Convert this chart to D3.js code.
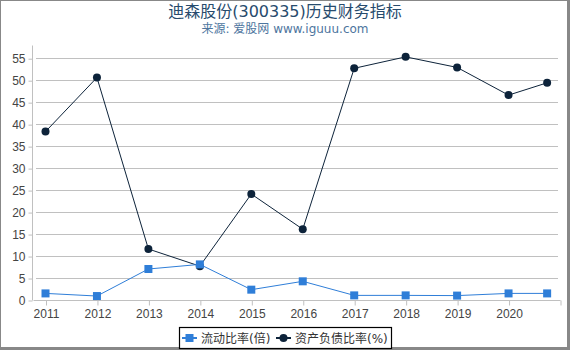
<!DOCTYPE html>
<html>
<head>
<meta charset="utf-8">
<script src="https://cdn.jsdelivr.net/npm/d3@7"></script>
<style>
  body { margin: 0; background: #fff; }
  svg { display: block; font-family: "DejaVu Sans", "Noto Sans CJK SC", sans-serif; }
  .tick text { fill: #444; font-size: 12px; }
</style>
</head>
<body>
<svg></svg>
<script>
const w = 570;
const h = 350;

// data
const periods = [2011, 2012, 2013, 2014, 2015, 2016, 2017, 2018, 2019, 2020, 2020.75];
const yearLabels = ["2011", "2012", "2013", "2014", "2015", "2016", "2017", "2018", "2019", "2020"];
const currentRatio = [1.5, 0.9, 7.05, 8.1, 2.35, 4.25, 1.05, 1.05, 1.0, 1.5, 1.5];
const debtRatio = [38.3, 50.6, 11.6, 7.7, 24.1, 16.1, 52.7, 55.3, 52.9, 46.6, 49.4];
const yTicks = [0, 5, 10, 15, 20, 25, 30, 35, 40, 45, 50, 55];
const seriesNames = ["流动比率(倍)", "资产负债比率(%)"];

const blue = "#2f7ed8";
const navy = "#0d233a";

const svg = d3.select("svg").attr("width", w).attr("height", h);

// outer frame
svg.append("rect").attr("x", 0.5).attr("y", 0.5).attr("width", 567).attr("height", 347)
  .attr("fill", "none").attr("stroke", "#888").attr("stroke-width", 1);
svg.append("rect").attr("x", 567).attr("y", 0).attr("width", 3).attr("height", h).attr("fill", "#888");
svg.append("rect").attr("x", 0).attr("y", 347).attr("width", w).attr("height", 3).attr("fill", "#888");

// titles
svg.append("text").attr("x", 285).attr("y", 17).attr("text-anchor", "middle")
  .attr("font-size", 16).attr("fill", "#274b6d").text("迪森股份(300335)历史财务指标");
svg.append("text").attr("x", 285).attr("y", 33).attr("text-anchor", "middle")
  .attr("font-size", 12).attr("fill", "#4d759e").text("来源: 爱股网 www.iguuu.com");

const x = d3.scaleLinear().domain([2010.757, 2021]).range([33, 560]);
const y = d3.scaleLinear().domain([0, 58]).range([300, 45]);

/** gridlines */
svg.append("g")
  .selectAll("line")
  .data(yTicks)
  .enter()
  .append("line")
  .attr("x1", 36)
  .attr("x2", 558)
  .attr("y1", (d) => Math.round(y(d)) + 0.5)
  .attr("y2", (d) => Math.round(y(d)) + 0.5)
  .attr("stroke", "#c0c0c0");

/** y axis */
const yAxis = svg.append("g")
  .attr("transform", "translate(32.5,0.5)")
  .call(d3.axisLeft(y).tickValues(yTicks).tickSize(4).tickPadding(3));
yAxis.select(".domain").attr("stroke", "#c0c0c0").attr("d", `M0,${y(58)}V${y(0)}`);
yAxis.selectAll(".tick line").attr("stroke", "#c0c0c0");

/** x axis */
const xAxis = svg.append("g")
  .attr("transform", `translate(0.5,${Math.round(y(0)) + 0.5})`)
  .call(d3.axisBottom(x)
    .tickValues(periods.slice(0, yearLabels.length).concat([2021]))
    .tickFormat((d, i) => yearLabels[i] || "")
    .tickSize(5)
    .tickPadding(4));
xAxis.select(".domain").attr("stroke", "#c0c0c0").attr("d", `M${x.range()[0]},0H${x.range()[1]}`);
xAxis.selectAll(".tick line").attr("stroke", "#c0c0c0");

const line = d3.line().x((d, i) => x(periods[i])).y((d) => y(d));

/** debt ratio series */
svg.append("path").datum(debtRatio).attr("d", line)
  .attr("fill", "none").attr("stroke", navy).attr("stroke-width", 1);
svg.append("g")
  .selectAll("circle")
  .data(debtRatio)
  .enter()
  .append("circle")
  .attr("cx", (d, i) => x(periods[i]))
  .attr("cy", (d) => y(d))
  .attr("r", 4)
  .attr("fill", navy);

/** current ratio series */
svg.append("path").datum(currentRatio).attr("d", line)
  .attr("fill", "none").attr("stroke", blue).attr("stroke-width", 1);
svg.append("g")
  .selectAll("rect")
  .data(currentRatio)
  .enter()
  .append("rect")
  .attr("x", (d, i) => x(periods[i]) - 4)
  .attr("y", (d) => y(d) - 4)
  .attr("width", 8)
  .attr("height", 8)
  .attr("fill", blue);

/** legend */
const legend = svg.append("g");
legend.append("rect").attr("x", 179.5).attr("y", 327.5).attr("width", 212).attr("height", 21)
  .attr("fill", "#fff").attr("stroke", "#000").attr("stroke-width", 1.2);
const items = [
  { x: 182, color: blue, shape: "square" },
  { x: 276, color: navy, shape: "circle" },
];
items.forEach((it, i) => {
  legend.append("line").attr("x1", it.x).attr("x2", it.x + 15).attr("y1", 338).attr("y2", 338)
    .attr("stroke", it.color).attr("stroke-width", 2);
  if (it.shape === "square") {
    legend.append("rect").attr("x", it.x + 3.5).attr("y", 334).attr("width", 8).attr("height", 8).attr("fill", it.color);
  } else {
    legend.append("circle").attr("cx", it.x + 7.5).attr("cy", 338).attr("r", 4).attr("fill", it.color);
  }
  legend.append("text").attr("x", it.x + 19).attr("y", 342.5)
    .attr("font-size", 12).attr("fill", "#333").text(seriesNames[i]);
});
</script>
</body>
</html>
